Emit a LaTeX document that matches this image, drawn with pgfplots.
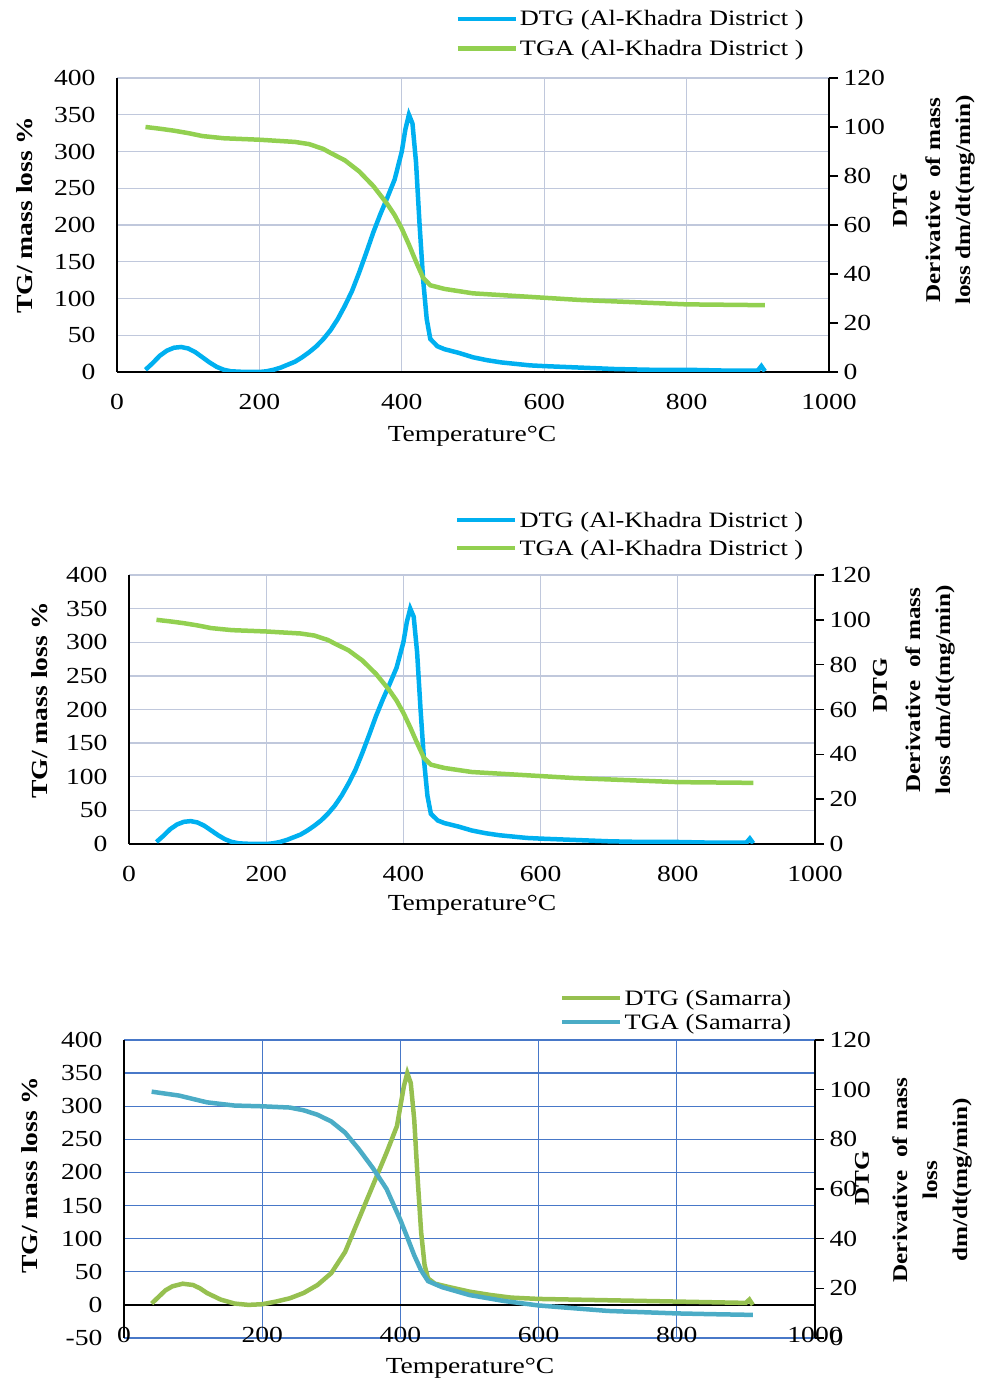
\documentclass[border=0pt]{standalone}
\usepackage{fontspec}
\setmainfont[FakeStretch=1.2]{Liberation Serif}
\usepackage{pgfplots}
\usepackage{pgfplotstable}
\pgfplotsset{compat=1.18}
\definecolor{khblue}{RGB}{0,176,240}
\definecolor{khgreen}{RGB}{146,208,80}
\definecolor{sgreen}{RGB}{150,192,80}
\definecolor{steal}{RGB}{75,172,198}
\definecolor{gridA}{RGB}{192,200,220}
\definecolor{gridB}{RGB}{72,120,200}
\newcommand\tfont{\fontsize{23}{27}\selectfont}
\newcommand\lfont{\fontsize{22}{26}\selectfont}
\newcommand\rfont{\fontsize{21}{30}\selectfont\bfseries}

\pgfplotstableread{
T D
40 3
50 12
60 22
70 29
80 33
90 34
100 32
110 27
120 20
130 13
140 7
150 3
160 1
180 0
200 0
210 1
220 3
230 6
240 10
250 14
260 20
270 27
280 35
290 45
300 57
310 72
320 90
330 110
340 135
350 162
360 190
370 215
380 238
390 262
400 300
405 330
410 350
415 338
420 285
425 200
430 125
435 72
440 45
450 35
460 31
480 26
500 20
520 16
540 13
560 11
580 9
600 8
650 6
700 4
750 3
800 3
850 2
900 2
905 8
910 1
}\dtgkh

\pgfplotstableread{
T M
40 100
60 99.3
80 98.5
100 97.5
120 96.3
150 95.4
200 94.8
250 93.9
270 93
290 91
300 89.4
320 86.4
340 81.9
360 75.9
380 68.4
390 64
400 58.5
410 52
420 45
430 38.4
440 35.4
460 33.9
500 32.1
550 31.2
600 30.3
650 29.4
700 28.8
800 27.6
900 27.3
910 27.3
}\tgakh

\pgfplotstableread{
T D
40 2
50 12
60 22
70 28
85 32
100 30
110 25
120 18
140 8
160 2
180 0
200 1
220 5
240 10
260 18
280 30
300 48
320 80
340 130
360 180
380 230
395 270
405 330
410 350
415 335
420 280
425 190
430 110
435 60
440 40
450 32
470 27
500 20
530 15
560 11
600 9
700 7
800 5
900 3
905 8
910 0
}\dtgsa

\pgfplotstableread{
T M
40 99.2
80 97.6
120 94.9
160 93.6
200 93.3
240 92.8
260 91.7
280 89.9
300 87.2
320 82.7
340 76.0
360 68.5
380 60.0
400 47.5
410 40.5
420 33.3
430 27.2
440 22.9
460 20.5
500 17.3
550 14.9
600 13.1
650 12.0
700 10.9
750 10.4
800 9.9
850 9.6
910 9.3
}\tgasa

\pgfplotsset{
  panel/.style={
    scale only axis, anchor=south west,
    xmin=0, xmax=1000,
    tick label style={font=\tfont},
    /pgf/number format/assume math mode=true,
    /pgf/number format/1000 sep={},
  },
  leftax/.style={
    panel,
    axis y line*=left,
    xtick={0,200,...,1000},
    ytick distance=50,
    xmajorgrids, ymajorgrids,
    grid style={line width=1.3pt},
    axis line style={line width=1.6pt, black},
    major tick length=0pt,
    hide obscured x ticks=false, hide obscured y ticks=false,
    xticklabel style={anchor=north, yshift=-19pt},
    yticklabel style={anchor=east, xshift=-18pt},
  },
  rightax/.style={
    panel,
    axis y line*=right, axis x line=none,
    ymin=0, ymax=120, ytick distance=20,
    tick align=outside, major tick length=9pt,
    ytick style={line width=1.4pt, black},
    axis line style={line width=1.6pt, black},
    yticklabel style={anchor=west, xshift=2pt},
    legend cell align=left,
    legend image code/.code={\draw[#1] (0pt,0pt) -- (58pt,0pt);},
  },
}

\begin{document}
\begin{tikzpicture}
\path[use as bounding box] (0,0) rectangle (985pt,1385pt);

% ---------------- Panel 1 ----------------
\begin{axis}[leftax, at={(117pt,1013pt)}, width=712pt, height=294pt,
  ymin=0, ymax=400, axis x line*=bottom, grid style={gridA}]
\addplot[khblue, line width=4.5pt] table[x=T, y=D] {\dtgkh};
\end{axis}
\begin{axis}[rightax, at={(117pt,1013pt)}, width=712pt, height=294pt,
  legend style={at={(0.475,1.238)}, anchor=north west, draw=none, fill=none,
    font=\lfont, row sep=9pt, inner sep=0pt}]
\addlegendimage{khblue, line width=4pt}
\addlegendentry{DTG (Al-Khadra District )}
\addplot[khgreen, line width=4.5pt] table[x=T, y=M] {\tgakh};
\addlegendentry{TGA (Al-Khadra District )}
\end{axis}
\node[rotate=90, font=\tfont\bfseries] at (25pt,1170pt) {TG/ mass loss \%};
\node[font=\tfont] at (472pt,949pt) {Temperature°C};
\node[rotate=90, font=\rfont] at (900pt,1185pt) {DTG};
\node[rotate=90, font=\rfont, align=center] at (950pt,1185pt) {Derivative \ of mass\\loss dm/dt(mg/min)};

% ---------------- Panel 2 ----------------
\begin{axis}[leftax, at={(129pt,541pt)}, width=686pt, height=269pt,
  ymin=0, ymax=400, axis x line*=bottom, grid style={gridA}]
\addplot[khblue, line width=4.5pt] table[x=T, y=D] {\dtgkh};
\end{axis}
\begin{axis}[rightax, at={(129pt,541pt)}, width=686pt, height=269pt,
  legend style={at={(0.475,1.242)}, anchor=north west, draw=none, fill=none,
    font=\lfont, row sep=7pt, inner sep=0pt}]
\addlegendimage{khblue, line width=4pt}
\addlegendentry{DTG (Al-Khadra District )}
\addplot[khgreen, line width=4.5pt] table[x=T, y=M] {\tgakh};
\addlegendentry{TGA (Al-Khadra District )}
\end{axis}
\node[rotate=90, font=\tfont\bfseries] at (40pt,685pt) {TG/ mass loss \%};
\node[font=\tfont] at (472pt,480pt) {Temperature°C};
\node[rotate=90, font=\rfont] at (880pt,700pt) {DTG};
\node[rotate=90, font=\rfont, align=center] at (930pt,695pt) {Derivative \ of mass\\loss dm/dt(mg/min)};

% ---------------- Panel 3 ----------------
\begin{axis}[leftax, at={(124pt,47pt)}, width=691pt, height=298pt,
  ymin=-50, ymax=400, axis x line*=middle, grid style={gridB}]
\addplot[sgreen, line width=4.5pt] table[x=T, y=D] {\dtgsa};
\end{axis}
\begin{axis}[rightax, at={(124pt,47pt)}, width=691pt, height=298pt,
  legend style={at={(0.631,1.175)}, anchor=north west, draw=none, fill=none,
    font=\lfont, row sep=3pt, inner sep=0pt}]
\addlegendimage{sgreen, line width=4pt}
\addlegendentry{DTG (Samarra)}
\addplot[steal, line width=4.5pt] table[x=T, y=M] {\tgasa};
\addlegendentry{TGA (Samarra)}
\end{axis}
\node[rotate=90, font=\tfont\bfseries] at (30pt,210pt) {TG/ mass loss \%};
\node[font=\tfont] at (470pt,17pt) {Temperature°C};
\node[rotate=90, font=\rfont] at (862pt,207pt) {DTG};
\node[rotate=90, font=\rfont, align=center] at (932pt,205pt) {Derivative \ of mass\\loss\\dm/dt(mg/min)};
\end{tikzpicture}
\end{document}
